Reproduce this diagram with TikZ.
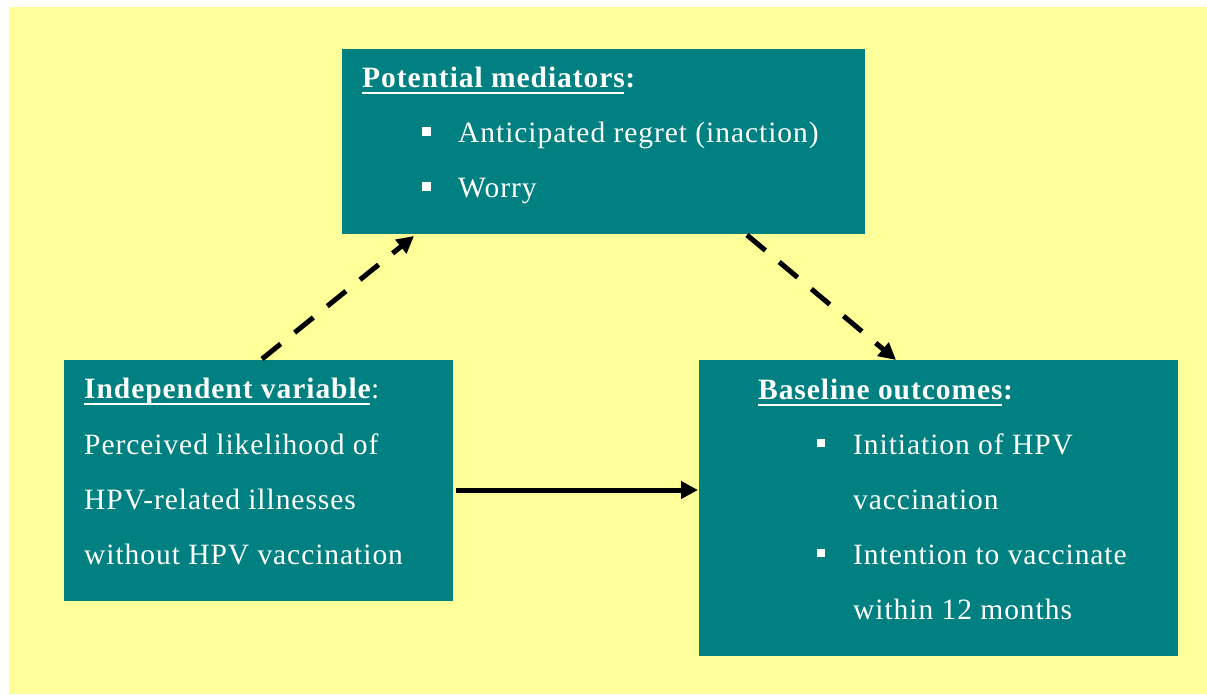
\documentclass[tikz,border=0pt]{standalone}
\usepackage{fontspec}
\setmainfont{Liberation Serif}[LetterSpace=3.2]
\usetikzlibrary{arrows.meta}
\definecolor{bgyellow}{HTML}{FFFF99}
\definecolor{teal}{HTML}{008080}
\begin{document}
\begin{tikzpicture}[x=1pt,y=-1pt,
  box/.style={fill=teal,draw=none,anchor=north west,inner sep=0pt},
  txt/.style={text=white,anchor=base west,inner sep=0pt,font=\fontsize{29.5}{34}\selectfont},
  head/.style={txt,font=\fontsize{29.5}{34}\selectfont\bfseries},
  uline/.style={white,line width=2.6pt},
  bul/.style={fill=white,draw=none,minimum size=8.5pt,inner sep=0pt,anchor=center},
  arr/.style={line width=5pt,-{Triangle[length=17pt,width=17pt]}},
  dasharr/.style={arr,dash pattern=on 24pt off 18pt}
]
\useasboundingbox (0,0) rectangle (1207,694);
\fill[bgyellow] (9,7) rectangle (1207,694);

% boxes
\node[box,minimum width=523pt,minimum height=185pt] (med) at (342,49) {};
\node[box,minimum width=389pt,minimum height=241pt] (ind) at (64,360) {};
\node[box,minimum width=479pt,minimum height=296pt] (out) at (699,360) {};

% mediators box
\node[head] (medh) at (362,87) {Potential mediators};
\node[head] (medc) at (medh.base east) {:};
\draw[uline] ([yshift=-6pt]medh.base west) -- ([yshift=-6pt,xshift=-1pt]medh.base east);
\node[bul] (mb1) at (426.5,131.5) {};
\node[txt] (mt1) at (458,142) {Anticipated regret (inaction)};
\node[bul] (mb2) at (426.5,186.5) {};
\node[txt] (mt2) at (458,197) {Worry};

% independent variable box
\node[head] (indh) at (84,398) {Independent variable};
\node[txt] (indc) at (indh.base east) {:};
\draw[uline] ([yshift=-6pt]indh.base west) -- ([yshift=-6pt,xshift=-1pt]indh.base east);
\node[txt] (it1) at (84,454) {Perceived likelihood of};
\node[txt] (it2) at (84,509) {HPV-related illnesses};
\node[txt] (it3) at (84,564) {without HPV vaccination};

% outcomes box
\node[head] (outh) at (758,399) {Baseline outcomes};
\node[head] (outc) at (outh.base east) {:};
\draw[uline] ([yshift=-6pt]outh.base west) -- ([yshift=-6pt,xshift=-1pt]outh.base east);
\node[bul] (ob1) at (821,443) {};
\node[txt] (ot1) at (853,454) {Initiation of HPV};
\node[txt] (ot2) at (853,509) {vaccination};
\node[bul] (ob2) at (821,553) {};
\node[txt] (ot3) at (853,564) {Intention to vaccinate};
\node[txt] (ot4) at (853,619) {within 12 months};

% connectors
\coordinate (a1s) at (262,359);
\coordinate (a1e) at (414,236);
\coordinate (a2s) at (747,235);
\coordinate (a2e) at (896,360);
\coordinate (a3s) at (456,490);
\coordinate (a3e) at (698,490);
\draw[dasharr] (a1s) -- (a1e);
\draw[dasharr] (a2s) -- (a2e);
\draw[arr] (a3s) -- (a3e);
\end{tikzpicture}
\end{document}
